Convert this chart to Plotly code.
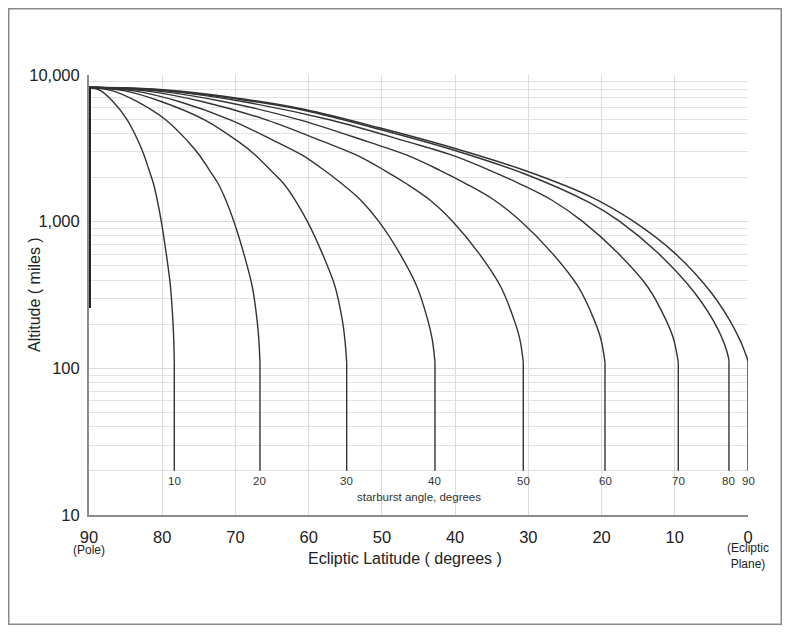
import math
import plotly.graph_objects as go

# ---------------- data ----------------
angles = [10, 20, 30, 40, 50, 60, 70, 80, 90]

# altitude levels (miles) at which the curves 10-70 were read
alt_levels = [8250, 7800, 6600, 4930, 3510, 2850, 2240, 1820, 1405, 1000, 608, 360, 214, 158, 110]

lat_10 = [90, 88.37, 86.74, 84.76, 83.24, 82.49, 81.79, 81.20, 80.68, 80.12, 79.46, 78.87, 78.55, 78.43, 78.35]
lat_20 = [90, 86.73, 83.46, 79.49, 76.46, 74.94, 73.54, 72.37, 71.32, 70.20, 68.87, 67.70, 67.05, 66.81, 66.65]
lat_30 = [90, 85.07, 80.15, 74.16, 69.59, 67.30, 65.19, 63.43, 61.85, 60.16, 58.15, 56.39, 55.41, 55.06, 54.81]
lat_40 = [90, 83.86, 77.72, 70.63, 64.49, 60.94, 57.87, 55.51, 52.91, 50.40, 47.57, 45.21, 43.74, 43.13, 42.75]
lat_50 = [90, 82.29, 74.58, 65.68, 57.97, 53.52, 49.67, 46.70, 43.44, 40.30, 36.74, 33.77, 31.94, 31.16, 30.69]
lat_60 = [90, 80.84, 71.68, 61.11, 51.95, 46.66, 42.08, 38.56, 34.68, 30.95, 26.72, 23.19, 21.01, 20.09, 19.53]
lat_70 = [90, 79.54, 69.08, 57.00, 46.54, 40.51, 35.27, 31.25, 26.82, 22.56, 17.73, 13.71, 11.21, 10.16, 9.52]

lat_80 = [90, 80.3, 68.46, 60.5, 50.49, 40.47, 30.46, 21.58, 17.48, 12.25, 7.24, 4.06, 2.69, 2.6]
alt_80 = [8250, 7901, 6701, 5728, 4284, 3105, 2113, 1341, 1000, 608, 325, 183, 120, 110]

lat_90 = [90, 80.3, 68.46, 60.5, 50.49, 40.47, 30.46, 21.31, 15.57, 9.97, 4.96, 1.78, 0.18, 0]
alt_90 = [8250, 7962, 6808, 5818, 4385, 3205, 2233, 1466, 1000, 608, 325, 183, 120, 110]

curve_lats = [lat_10, lat_20, lat_30, lat_40, lat_50, lat_60, lat_70, lat_80, lat_90]
curve_alts = [alt_levels] * 7 + [alt_80, alt_90]

drop_alt = [110, 20]          # vertical drop below the end of each curve
pole_alt = [8250, 258]        # zero-angle ray along the pole
angle_label_alt = 17
caption_alt = 13.3

x_tick_vals = [90, 80, 70, 60, 50, 40, 30, 20, 10, 0]
x_tick_text = ["90", "80", "70", "60", "50", "40", "30", "20", "10", "0"]
y_tick_vals = [10, 100, 1000, 10000]
y_tick_text = ["10", "100", "1,000", "10,000"]
y_minor_vals = [m * d for d in [10, 100, 1000] for m in range(2, 10)]

FONT = "Arial, 'Liberation Sans', sans-serif"
LINE = "#333333"

# layout geometry (figure pixels); page adds an 8px body margin
W, H = 774, 617
ML, MT, MR, MB = 81, 67, 34, 110
PW, PH = W - ML - MR, H - MT - MB


def px_to_paper_x(px):
    return (px - 8 - ML) / PW


def py_to_paper_y(py):
    return (H - MB - (py - 8)) / PH


fig = go.Figure()

for lats, alts in zip(curve_lats, curve_alts):
    fig.add_trace(go.Scatter(x=lats, y=alts, mode="lines",
                             line=dict(color=LINE, width=1.4, shape="spline", smoothing=1.0),
                             hoverinfo="skip", showlegend=False))
    fig.add_trace(go.Scatter(x=[lats[-1], lats[-1]], y=drop_alt, mode="lines",
                             line=dict(color=LINE, width=1.4),
                             hoverinfo="skip", showlegend=False))

fig.add_trace(go.Scatter(x=[90, 90], y=pole_alt, mode="lines",
                         line=dict(color="#222222", width=4),
                         hoverinfo="skip", showlegend=False))

annotations = []
for a, lats in zip(angles, curve_lats):
    annotations.append(dict(x=lats[-1], y=math.log10(angle_label_alt), xref="x", yref="y",
                            text=str(a), showarrow=False,
                            font=dict(family=FONT, size=11.5, color="#333333"),
                            xanchor="center", yanchor="middle"))

annotations += [
    dict(x=px_to_paper_x(419), y=math.log10(caption_alt), xref="paper", yref="y",
         text="starburst angle, degrees", showarrow=False,
         font=dict(family=FONT, size=11.5, color="#333333"), xanchor="center", yanchor="middle"),
    dict(x=90, y=py_to_paper_y(550), xref="x", yref="paper", text="(Pole)", showarrow=False,
         font=dict(family=FONT, size=12, color="#222222"), xanchor="center", yanchor="middle"),
    dict(x=0, y=py_to_paper_y(556), xref="x", yref="paper", text="(Ecliptic<br>Plane)", showarrow=False,
         font=dict(family=FONT, size=12, color="#222222"), xanchor="center", yanchor="middle"),
    dict(x=px_to_paper_x(405), y=py_to_paper_y(558), xref="paper", yref="paper",
         text="Ecliptic Latitude ( degrees )", showarrow=False,
         font=dict(family=FONT, size=16, color="#222222"), xanchor="center", yanchor="middle"),
    dict(x=px_to_paper_x(34), y=0.5, xref="paper", yref="paper",
         text="Altitude ( miles )", showarrow=False, textangle=-90,
         font=dict(family=FONT, size=16, color="#222222"), xanchor="center", yanchor="middle"),
]

fig.update_layout(
    width=W, height=H, autosize=False,
    margin=dict(l=ML, r=MR, t=MT, b=MB),
    paper_bgcolor="white", plot_bgcolor="white",
    font=dict(family=FONT, size=16, color="#222222"),
    showlegend=False,
    annotations=annotations,
    shapes=[dict(type="rect", xref="paper", yref="paper",
                 x0=(0.75 - ML) / PW, x1=(W - 0.75 - ML) / PW,
                 y0=(H - MB - (H - 0.75)) / PH, y1=(H - MB - 0.75) / PH,
                 line=dict(color="#8a8a8a", width=1.5), fillcolor="rgba(0,0,0,0)")],
)

fig.update_xaxes(range=[90, 0], tickmode="array", tickvals=x_tick_vals, ticktext=x_tick_text,
                 showgrid=True, gridcolor="#dcdcdc", gridwidth=1,
                 showline=True, linecolor="#8c8c8c", linewidth=2, ticks="",
                 zeroline=False, layer="below traces",
                 tickfont=dict(family=FONT, size=16.5, color="#222222"), ticklabelstandoff=6)

fig.update_yaxes(type="log", range=[1, 4], tickmode="array", tickvals=y_tick_vals, ticktext=y_tick_text,
                 showgrid=True, gridcolor="#dcdcdc", gridwidth=1,
                 minor=dict(tickmode="array", tickvals=y_minor_vals, showgrid=True,
                            gridcolor="#e3e3e3", gridwidth=1, ticks=""),
                 showline=True, linecolor="#8c8c8c", linewidth=2, ticks="",
                 zeroline=False, layer="below traces",
                 tickfont=dict(family=FONT, size=16.5, color="#222222"), ticklabelstandoff=4)

fig.write_html("out.html")
